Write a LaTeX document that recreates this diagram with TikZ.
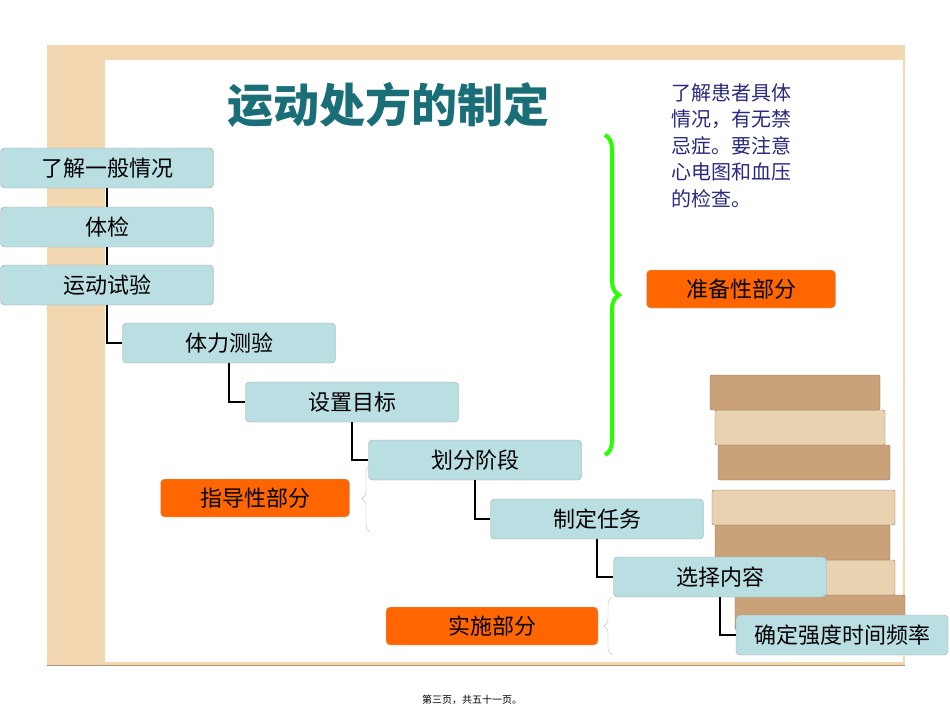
\documentclass[tikz,border=0pt]{standalone}
\usepackage{fontspec}
\setmainfont{Noto Sans CJK SC}
\usetikzlibrary{decorations.pathreplacing}
\definecolor{framebrown}{HTML}{F2D7B0}
\definecolor{stepblue}{HTML}{B9DFE3}
\definecolor{partorange}{HTML}{FF6600}
\definecolor{titleteal}{HTML}{1A6E78}
\definecolor{noteblue}{HTML}{2A2A80}
\definecolor{bookA}{HTML}{C9A27A}
\definecolor{bookB}{HTML}{E8D2B0}
\tikzset{
  stepbox/.style={draw=gray!70,fill=stepblue,rounded corners=4pt,minimum width=213pt,minimum height=40pt,font=\fontsize{22}{24}\selectfont,inner sep=0pt},
  partbox/.style={draw=gray!50,fill=partorange,rounded corners=4pt,minimum height=38pt,font=\fontsize{22}{24}\selectfont,inner sep=0pt},
  link/.style={line width=2.2pt,black},
  bookbox/.style={fill=bookA,draw=bookA!70!black,rounded corners=2pt}
}
\begin{document}
\begin{tikzpicture}[x=1pt,y=-1pt]
    \useasboundingbox (0,0) rectangle (950,713);
    % frame
    \fill[white] (0,0) rectangle (950,713);
    \fill[framebrown] (47,45) rectangle (905,665);
    \fill[white] (105,60) rectangle (903,662);
    \draw[framebrown!70!black,thin] (47,665) -- (905,665);

    % book stack
    \foreach \yy/\xa/\xb/\c in {595/735/905/bookA,560/720/895/bookB,525/715/890/bookA,490/712/895/bookB,445/718/890/bookA,410/715/885/bookB,375/710/880/bookA}
      \draw[bookbox,fill=\c] (\xa,\yy) rectangle (\xb,\yy+35);

    % title and notes
    \node[text=titleteal,font=\fontsize{46}{50}\selectfont\bfseries] (title) at (388,105) {运动处方的制定};
    \node[text=noteblue,align=left,anchor=north west,font=\fontsize{20}{26.5}\selectfont] (note) at (668,80)
      {了解患者具体\\情况，有无禁\\忌症。要注意\\心电图和血压\\的检查。};

    % steps
    \node[stepbox] (s1) at (107,168) {了解一般情况};
    \node[stepbox] (s2) at (107,227) {体检};
    \node[stepbox] (s3) at (107,285) {运动试验};
    \node[stepbox] (s4) at (229,343) {体力测验};
    \node[stepbox] (s5) at (352,402) {设置目标};
    \node[stepbox] (s6) at (475,460) {划分阶段};
    \node[stepbox] (s7) at (597,519) {制定任务};
    \node[stepbox] (s8) at (720,577) {选择内容};
    \node[stepbox,minimum width=212pt] (s9) at (842,635) {确定强度时间频率};

    % connectors
    \draw[link] (s1) -- (s2);
    \draw[link] (s2) -- (s3);
    \draw[link] (s3.south) |- (s4.west);
    \draw[link] (s4.south) |- (s5.west);
    \draw[link] (s5.south) |- (s6.west);
    \draw[link] (s6.south) |- (s7.west);
    \draw[link] (s7.south) |- (s8.west);
    \draw[link] (s8.south) |- (s9.west);

    % parts
    \node[partbox,minimum width=189pt] (p1) at (741,289) {准备性部分};
    \node[partbox,minimum width=189pt] (p2) at (255,498) {指导性部分};
    \node[partbox,minimum width=212pt] (p3) at (492,626) {实施部分};

    % braces
    \draw[green!80!lime,line width=4pt,decoration={brace,amplitude=14pt},decorate] (605,135) -- (605,455);
    \draw[gray!50,decoration={brace,amplitude=8pt},decorate] (370,532) -- (370,465);
    \draw[gray!50,decoration={brace,amplitude=8pt},decorate] (612,655) -- (612,597);

    % footer
    \node[font=\fontsize{10}{12}\selectfont] (foot) at (472,700) {第三页，共五十一页。};
\end{tikzpicture}
\end{document}
